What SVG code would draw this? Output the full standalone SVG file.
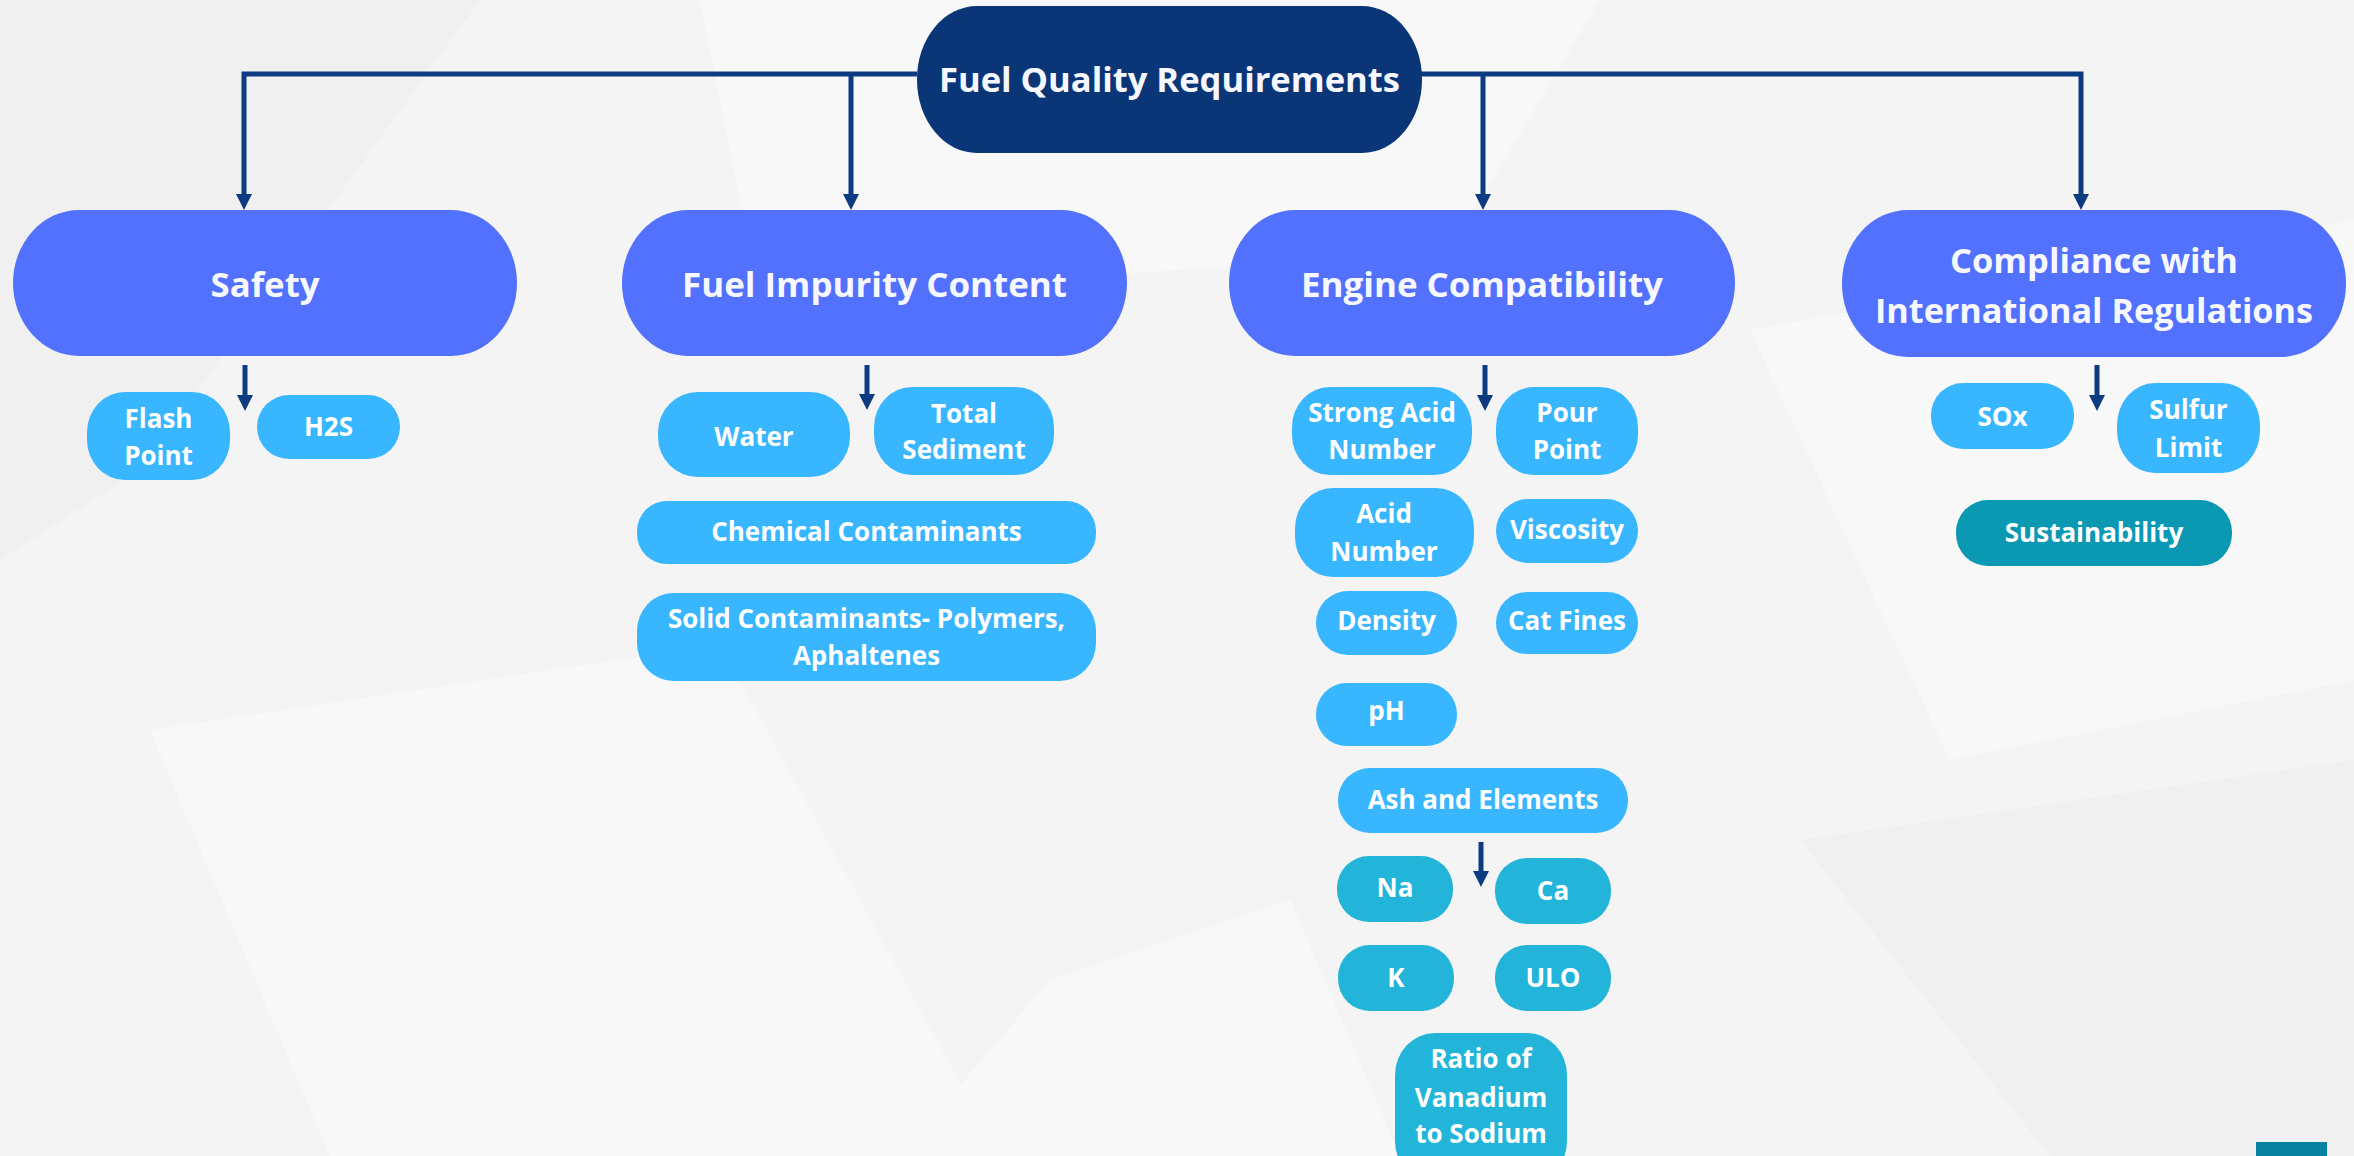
<svg xmlns="http://www.w3.org/2000/svg" width="2354" height="1156" viewBox="0 0 2354 1156">
<defs>
<style>
.bg{fill:#f4f4f4}
.lt{fill:#f8f8f8}
.dk{fill:#f0f0f0}
.root{fill:#0a3678}
.cat{fill:#5271ff}
.ch{fill:#38b6ff}
.tl{fill:#22b4d9}
.st{fill:#0a98b2}
.h{font-family:"Open Sans","Liberation Sans",sans-serif;font-weight:700;font-size:34px;fill:#f7f8ff;text-anchor:middle}
.t{font-family:"Open Sans","Liberation Sans",sans-serif;font-weight:700;font-size:26px;fill:#ffffff;text-anchor:middle}
.con{fill:none;stroke:#0c3b82;stroke-width:5}
</style>
<marker id="ah" viewBox="0 0 10 10" refX="0" refY="5" markerWidth="16" markerHeight="16" markerUnits="userSpaceOnUse" orient="auto">
<path d="M0,0 L10,5 L0,10 z" fill="#0c3b82"/>
</marker>
</defs>

<g id="background">
<rect class="bg" x="0" y="0" width="2354" height="1156"/>
<polygon class="lt" points="700,0 1600,0 1450,250 760,300"/>
<polygon class="dk" points="0,0 480,0 140,470 0,560"/>
<polygon class="lt" points="150,730 720,645 1000,1156 330,1156"/>
<polygon class="lt" points="1750,330 2354,220 2354,680 1950,760"/>
<polygon class="lt" points="1050,980 1290,900 1400,1156 900,1156"/>
<polygon class="dk" points="1800,840 2354,760 2354,1156 2050,1156"/>
</g>

<g id="connectors">
<path class="con" d="M917,74 H244 V194" marker-end="url(#ah)"/>
<path class="con" d="M851,74 V194" marker-end="url(#ah)"/>
<path class="con" d="M1420,74 H2081 V194" marker-end="url(#ah)"/>
<path class="con" d="M1483,74 V194" marker-end="url(#ah)"/>
<path class="con" d="M245,365 V395" marker-end="url(#ah)"/>
<path class="con" d="M867,365 V394" marker-end="url(#ah)"/>
<path class="con" d="M1485,365 V395" marker-end="url(#ah)"/>
<path class="con" d="M2097,365 V395" marker-end="url(#ah)"/>
<path class="con" d="M1481,842 V871" marker-end="url(#ah)"/>
</g>

<g id="root">
<rect class="root" x="917" y="6" width="505" height="147" rx="60" ry="73"/>
<text class="h" x="1169.5" y="92" textLength="461" lengthAdjust="spacingAndGlyphs">Fuel Quality Requirements</text>
</g>

<g id="safety">
<rect class="cat" x="13" y="210" width="504" height="146" rx="66" ry="73"/>
<text class="h" x="265" y="297" textLength="109" lengthAdjust="spacingAndGlyphs">Safety</text>
</g>
<g id="fuel-impurity">
<rect class="cat" x="622" y="210" width="505" height="146" rx="66" ry="73"/>
<text class="h" x="874.5" y="297" textLength="385" lengthAdjust="spacingAndGlyphs">Fuel Impurity Content</text>
</g>
<g id="engine">
<rect class="cat" x="1229" y="210" width="506" height="146" rx="66" ry="73"/>
<text class="h" x="1482" y="297" textLength="362" lengthAdjust="spacingAndGlyphs">Engine Compatibility</text>
</g>
<g id="compliance">
<rect class="cat" x="1842" y="210" width="504" height="147" rx="66" ry="73"/>
<text class="h" x="2094" y="273" textLength="288" lengthAdjust="spacingAndGlyphs">Compliance with</text>
<text class="h" x="2094" y="323" textLength="438" lengthAdjust="spacingAndGlyphs">International Regulations</text>
</g>

<g id="flash-point"><rect class="ch" x="87" y="392" width="143" height="88" rx="38" ry="40"/><text class="t" x="158.5" y="428">Flash</text><text class="t" x="158.5" y="465">Point</text></g>
<g id="h2s"><rect class="ch" x="257" y="395" width="143" height="64" rx="32" ry="32"/><text class="t" x="328.5" y="436">H2S</text></g>

<g id="water"><rect class="ch" x="658" y="392" width="192" height="85" rx="40" ry="40"/><text class="t" x="754" y="446">Water</text></g>
<g id="total-sediment"><rect class="ch" x="874" y="387" width="180" height="88" rx="38" ry="40"/><text class="t" x="964" y="423">Total</text><text class="t" x="964" y="459">Sediment</text></g>
<g id="chemical"><rect class="ch" x="637" y="501" width="459" height="63" rx="30" ry="30"/><text class="t" x="866.5" y="541">Chemical Contaminants</text></g>
<g id="solid"><rect class="ch" x="637" y="593" width="459" height="88" rx="36" ry="38"/><text class="t" x="866.5" y="628">Solid Contaminants- Polymers,</text><text class="t" x="866.5" y="665">Aphaltenes</text></g>

<g id="strong-acid"><rect class="ch" x="1292" y="387" width="180" height="88" rx="38" ry="40"/><text class="t" x="1382" y="422">Strong Acid</text><text class="t" x="1382" y="459">Number</text></g>
<g id="pour-point"><rect class="ch" x="1496" y="387" width="142" height="88" rx="38" ry="40"/><text class="t" x="1567" y="422">Pour</text><text class="t" x="1567" y="459">Point</text></g>
<g id="acid-number"><rect class="ch" x="1295" y="488" width="179" height="89" rx="38" ry="40"/><text class="t" x="1384" y="523">Acid</text><text class="t" x="1384" y="561">Number</text></g>
<g id="viscosity"><rect class="ch" x="1496" y="499" width="142" height="64" rx="32" ry="32"/><text class="t" x="1567" y="539">Viscosity</text></g>
<g id="density"><rect class="ch" x="1316" y="591" width="141" height="64" rx="32" ry="32"/><text class="t" x="1386.5" y="630">Density</text></g>
<g id="cat-fines"><rect class="ch" x="1496" y="592" width="142" height="62" rx="31" ry="31"/><text class="t" x="1567" y="630">Cat Fines</text></g>
<g id="ph"><rect class="ch" x="1316" y="683" width="141" height="63" rx="31" ry="31"/><text class="t" x="1386.5" y="720">pH</text></g>
<g id="ash"><rect class="ch" x="1338" y="768" width="290" height="65" rx="32" ry="32"/><text class="t" x="1483" y="809">Ash and Elements</text></g>
<g id="na"><rect class="tl" x="1337" y="856" width="116" height="66" rx="32" ry="32"/><text class="t" x="1395" y="897">Na</text></g>
<g id="ca"><rect class="tl" x="1495" y="858" width="116" height="66" rx="32" ry="32"/><text class="t" x="1553" y="900">Ca</text></g>
<g id="k"><rect class="tl" x="1338" y="945" width="116" height="66" rx="32" ry="32"/><text class="t" x="1396" y="987">K</text></g>
<g id="ulo"><rect class="tl" x="1495" y="945" width="116" height="66" rx="32" ry="32"/><text class="t" x="1553" y="987">ULO</text></g>
<g id="ratio"><rect class="tl" x="1395" y="1033" width="172" height="150" rx="40" ry="42"/><text class="t" x="1481" y="1068">Ratio of</text><text class="t" x="1481" y="1107">Vanadium</text><text class="t" x="1481" y="1143">to Sodium</text></g>

<g id="sox"><rect class="ch" x="1931" y="383" width="143" height="66" rx="32" ry="32"/><text class="t" x="2002.5" y="426">SOx</text></g>
<g id="sulfur-limit"><rect class="ch" x="2117" y="383" width="143" height="90" rx="38" ry="42"/><text class="t" x="2188.5" y="419">Sulfur</text><text class="t" x="2188.5" y="457">Limit</text></g>
<g id="sustainability"><rect class="st" x="1956" y="500" width="276" height="66" rx="32" ry="32"/><text class="t" x="2094" y="542">Sustainability</text></g>

<rect id="corner-mark" x="2256" y="1142" width="71" height="14" fill="#06819f"/>
</svg>
